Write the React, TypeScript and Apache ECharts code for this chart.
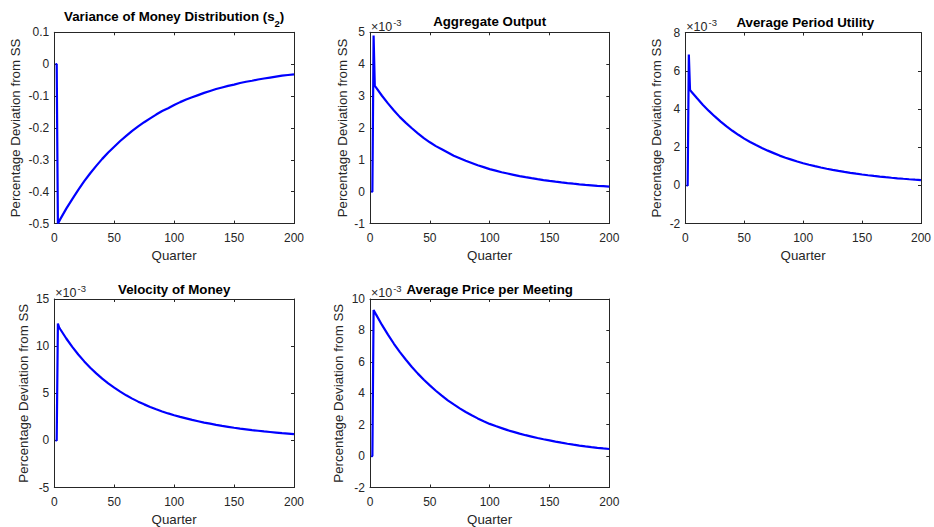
import React, { useEffect, useRef } from "react";
import * as echarts from "echarts";

// Quarter index (x) shared by every panel
const QUARTERS = [
  1, 2, 3, 4, 5, 10, 15, 20, 25, 30, 35, 40, 45, 50, 55, 60, 65, 70, 75, 80, 85, 90, 95, 100,
  105, 110, 115, 120, 125, 130, 135, 140, 145, 150, 155, 160, 165, 170, 175, 180, 185, 190, 195, 200,
];

// Variance of money distribution (s2), percentage deviation
const VARIANCE_S2 = [
  0, 0, -0.5, -0.493, -0.486, -0.453, -0.423, -0.394, -0.367, -0.342, -0.319, -0.297, -0.277, -0.259,
  -0.241, -0.225, -0.209, -0.195, -0.182, -0.17, -0.158, -0.147, -0.138, -0.128,
  -0.119, -0.111, -0.104, -0.097, -0.09, -0.084, -0.078, -0.073, -0.068, -0.064,
  -0.059, -0.055, -0.052, -0.048, -0.045, -0.042, -0.039, -0.036, -0.034, -0.032,
];

// The following series are in units of 10^-3
const OUTPUT_E3 = [
  0, 0, 4.9, 3.32, 3.27, 3.01, 2.77, 2.55, 2.34, 2.16, 1.99, 1.83, 1.68, 1.55,
  1.43, 1.33, 1.23, 1.13, 1.05, 0.97, 0.9, 0.83, 0.77, 0.71,
  0.66, 0.61, 0.57, 0.53, 0.49, 0.456, 0.424, 0.394, 0.366, 0.34,
  0.315, 0.292, 0.271, 0.251, 0.233, 0.216, 0.201, 0.186, 0.173, 0.16,
];

const UTILITY_E3 = [
  0, 0, 6.85, 5.0, 4.92, 4.56, 4.21, 3.9, 3.61, 3.34, 3.09, 2.86, 2.65, 2.45,
  2.27, 2.11, 1.96, 1.82, 1.69, 1.56, 1.45, 1.35, 1.25, 1.16,
  1.08, 1.006, 0.937, 0.873, 0.813, 0.757, 0.705, 0.657, 0.612, 0.57,
  0.531, 0.494, 0.46, 0.429, 0.4, 0.372, 0.347, 0.323, 0.301, 0.28,
];

const VELOCITY_E3 = [
  0, 0, 12.4, 12.0, 11.79, 10.81, 9.92, 9.11, 8.38, 7.71, 7.11, 6.55, 6.05, 5.59,
  5.17, 4.78, 4.43, 4.11, 3.82, 3.55, 3.3, 3.07, 2.86, 2.67,
  2.49, 2.33, 2.17, 2.03, 1.89, 1.77, 1.65, 1.54, 1.44, 1.34,
  1.25, 1.17, 1.09, 1.02, 0.95, 0.89, 0.83, 0.77, 0.72, 0.67,
];

const PRICE_E3 = [
  0, 0, 9.3, 9.16, 9.02, 8.35, 7.73, 7.15, 6.62, 6.13, 5.67, 5.25, 4.86, 4.5,
  4.16, 3.85, 3.55, 3.29, 3.04, 2.81, 2.6, 2.4, 2.22, 2.05,
  1.91, 1.78, 1.65, 1.54, 1.43, 1.33, 1.24, 1.15, 1.07, 1.0,
  0.923, 0.853, 0.787, 0.727, 0.671, 0.62, 0.572, 0.528, 0.488, 0.45,
];

const TITLES = [
  "Variance of Money Distribution (s",
  "Aggregate Output",
  "Average Period Utility",
  "Velocity of Money",
  "Average Price per Meeting",
];
const SERIES = [VARIANCE_S2, OUTPUT_E3, UTILITY_E3, VELOCITY_E3, PRICE_E3];
const Y_MIN = [-0.5, -1, -2, -5, -2];
const Y_MAX = [0.1, 5, 8, 15, 10];
const Y_STEP = [0.1, 1, 2, 5, 2];
const HAS_EXPONENT = [false, true, true, true, true];
const X_MIN = 0;
const X_MAX = 200;
const X_STEP = 50;
const X_NAME = "Quarter";
const Y_NAME = "Percentage Deviation from SS";

// layout (pixels)
const GRIDS = [
  { left: 54.3, top: 32.3, width: 239.7, height: 191.3 },
  { left: 370, top: 32.3, width: 239.3, height: 191.3 },
  { left: 685.3, top: 32.6, width: 240, height: 191 },
  { left: 54.3, top: 299, width: 239.7, height: 191 },
  { left: 370, top: 299, width: 239.3, height: 191 },
];
const Y_NAME_GAP = [32, 21.5, 22, 24.5, 25];
const TITLE_Y = [16.7, 21.8, 22.3, 289, 289.5];

const AXIS_COLOR = "#262626";
const FONT = '"Liberation Sans", Arial, Helvetica, sans-serif';

export default function App() {
  const ref = useRef<HTMLDivElement>(null);

  useEffect(() => {
    if (!ref.current) return;
    const chart = echarts.init(ref.current, undefined, { renderer: "svg" });

    const xAxes: any[] = [];
    const yAxes: any[] = [];
    const series: any[] = [];
    const graphics: any[] = [];

    const lineStyle = { color: AXIS_COLOR, width: 1 };

    GRIDS.forEach((g, i) => {
      xAxes.push({
        gridIndex: i,
        type: "value",
        position: "bottom",
        min: X_MIN,
        max: X_MAX,
        interval: X_STEP,
        name: X_NAME,
        nameLocation: "middle",
        nameGap: 25.5,
        nameTextStyle: { fontFamily: FONT, fontSize: 13.3, color: AXIS_COLOR },
        axisLine: { show: true, onZero: false, lineStyle },
        axisTick: { show: true, inside: true, length: 3, lineStyle },
        axisLabel: { show: true, margin: 8, fontFamily: FONT, fontSize: 12, color: AXIS_COLOR },
        splitLine: { show: false },
      });
      xAxes.push({
        gridIndex: i,
        type: "value",
        position: "top",
        min: X_MIN,
        max: X_MAX,
        interval: X_STEP,
        axisLine: { show: true, onZero: false, lineStyle },
        axisTick: { show: true, inside: true, length: 3, lineStyle },
        axisLabel: { show: false },
        splitLine: { show: false },
      });
      const step = Y_STEP[i];
      const fmt = (v: number) => {
        const r = Math.round(v / step) * step;
        return step < 1 ? String(parseFloat(r.toFixed(1))) : String(Math.round(r));
      };
      yAxes.push({
        gridIndex: i,
        type: "value",
        position: "left",
        min: Y_MIN[i],
        max: Y_MAX[i],
        interval: step,
        name: Y_NAME,
        nameLocation: "middle",
        nameGap: Y_NAME_GAP[i],
        nameTextStyle: { fontFamily: FONT, fontSize: 13.3, color: AXIS_COLOR },
        axisLine: { show: true, onZero: false, lineStyle },
        axisTick: { show: true, inside: true, length: 3, lineStyle },
        axisLabel: { show: true, margin: 5, fontFamily: FONT, fontSize: 12, color: AXIS_COLOR, formatter: fmt },
        splitLine: { show: false },
      });
      yAxes.push({
        gridIndex: i,
        type: "value",
        position: "right",
        min: Y_MIN[i],
        max: Y_MAX[i],
        interval: step,
        axisLine: { show: true, onZero: false, lineStyle },
        axisTick: { show: true, inside: true, length: 3, lineStyle },
        axisLabel: { show: false },
        splitLine: { show: false },
      });
      series.push({
        type: "line",
        xAxisIndex: 2 * i,
        yAxisIndex: 2 * i,
        data: QUARTERS.map((q, k) => [q, SERIES[i][k]]),
        symbol: "none",
        showSymbol: false,
        clip: false,
        lineStyle: { color: "#0000ff", width: 2.2 },
        z: 3,
      });

      // title
      const cx = g.left + g.width / 2;
      if (i === 0) {
        graphics.push({
          type: "text",
          x: cx,
          y: TITLE_Y[i],
          style: {
            text: "{m|" + TITLES[i] + "}{s|2}{m|)}",
            align: "center",
            verticalAlign: "middle",
            rich: {
              m: { fontFamily: FONT, fontSize: 13.3, fontWeight: "bold", fill: "#000", lineHeight: 24, verticalAlign: "middle" },
              s: { fontFamily: FONT, fontSize: 9.5, fontWeight: "bold", fill: "#000", lineHeight: 10, verticalAlign: "bottom" },
            },
          },
        });
      } else {
        graphics.push({
          type: "text",
          x: cx,
          y: TITLE_Y[i],
          style: {
            text: TITLES[i],
            fontFamily: FONT,
            fontSize: 13.3,
            fontWeight: "bold",
            fill: "#000",
            align: "center",
            verticalAlign: "middle",
          },
        });
      }
      if (HAS_EXPONENT[i]) {
        graphics.push({
          type: "text",
          x: g.left + 1,
          y: g.top - 7.3,
          style: {
            text: "{a|×10}{b|-3}",
            align: "left",
            verticalAlign: "middle",
            rich: {
              a: { fontFamily: FONT, fontSize: 12.5, fill: AXIS_COLOR, lineHeight: 16, verticalAlign: "bottom" },
              b: { fontFamily: FONT, fontSize: 9.5, fill: AXIS_COLOR, lineHeight: 9, verticalAlign: "top", padding: [0, 0, 0, 1] },
            },
          },
        });
      }
    });

    chart.setOption({
      animation: false,
      backgroundColor: "#ffffff",
      grid: GRIDS.map((g) => ({ ...g, containLabel: false, show: false })),
      xAxis: xAxes,
      yAxis: yAxes,
      series,
      graphic: graphics,
    });

    return () => {
      chart.dispose();
    };
  }, []);

  return (
    <div
      ref={ref}
      style={{ position: "absolute", left: 0, top: 0, width: 934, height: 527, background: "#fff" }}
    />
  );
}
